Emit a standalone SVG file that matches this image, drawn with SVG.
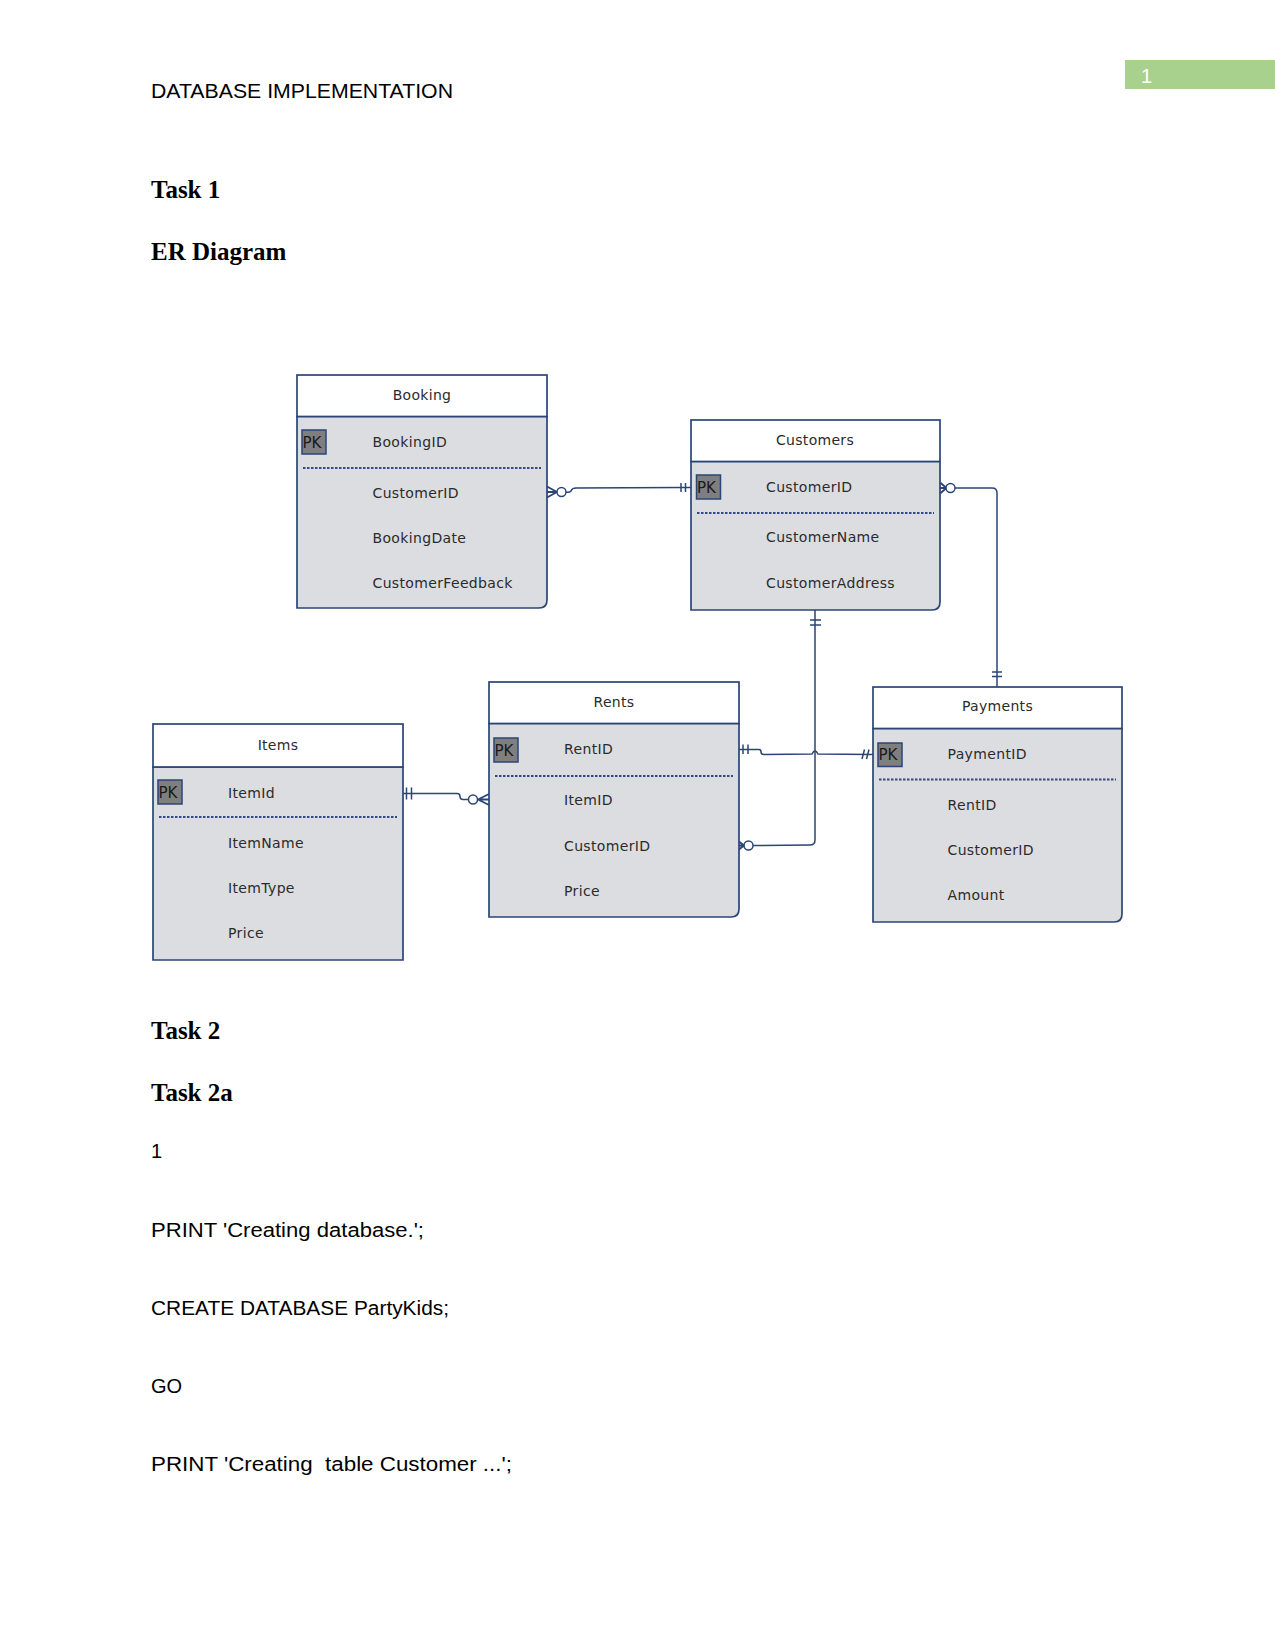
<svg xmlns="http://www.w3.org/2000/svg" width="1275" height="1650" viewBox="0 0 1275 1650">
<style>
.page{fill:#ffffff}
.body{fill:#dcdde0;stroke:#2b4576;stroke-width:1.7}
.head{fill:#ffffff;stroke:#2b4576;stroke-width:1.7}
.title{font-family:"DejaVu Sans",sans-serif;font-size:14px;fill:#2b2b2b;text-anchor:middle;letter-spacing:0.3px}
.attr{font-family:"DejaVu Sans",sans-serif;font-size:14px;fill:#2b2b2b;letter-spacing:0.35px}
.pk{fill:#7f7f7f;stroke:#2b4576;stroke-width:1.5}
.pkt{font-family:"DejaVu Sans",sans-serif;font-size:15px;fill:#1a1a1a}
.dot{stroke:#34497f;stroke-width:2;stroke-dasharray:2.5 1.5}
.conn{fill:none;stroke:#2b4576;stroke-width:1.5}
.foot{fill:none;stroke:#2b4576;stroke-width:1.9}
.circ{fill:#ffffff;stroke:#2b4576;stroke-width:1.5}
.hdr{font-family:"Liberation Sans",Arial,sans-serif;font-size:20px;fill:#000000}
.h1{font-family:"Liberation Serif","Times New Roman",serif;font-size:25px;font-weight:bold;fill:#000000}
.txt{font-family:"Liberation Sans",Arial,sans-serif;font-size:20px;fill:#000000}
</style>
<rect class="page" x="0" y="0" width="1275" height="1650"/>

<g id="header">
<text class="hdr" x="151" y="98" textLength="302" lengthAdjust="spacingAndGlyphs">DATABASE IMPLEMENTATION</text>
<rect x="1125" y="60" width="150" height="29" fill="#a9d18e"/>
<text x="1141" y="83" font-family="Liberation Sans, Arial, sans-serif" font-size="20" fill="#ffffff">1</text>
</g>

<g id="headings">
<text class="h1" x="151" y="198">Task 1</text>
<text class="h1" x="151" y="260">ER Diagram</text>
<text class="h1" x="151" y="1039">Task 2</text>
<text class="h1" x="151" y="1100.5">Task 2a</text>
</g>

<g id="bodytext">
<text class="txt" x="151" y="1158">1</text>
<text class="txt" x="151" y="1237" textLength="273" lengthAdjust="spacingAndGlyphs">PRINT 'Creating database.';</text>
<text class="txt" x="151" y="1315" textLength="298" lengthAdjust="spacingAndGlyphs">CREATE DATABASE PartyKids;</text>
<text class="txt" x="151" y="1392.5">GO</text>
<text class="txt" x="151" y="1470.5" textLength="361" lengthAdjust="spacingAndGlyphs" xml:space="preserve">PRINT 'Creating  table Customer ...';</text>
</g>

<g id="connectors">
<!-- Booking - Customers -->
<path class="foot" d="M547,486.5 L557,492 M547,497.5 L557,492 M547,492 L557,492"/>
<circle class="circ" cx="561.5" cy="492" r="4.5"/>
<path class="conn" d="M566,492 Q569,493 571,491 Q572,488 576,488 L680,487.5 L691,487.5"/>
<path class="conn" d="M681,483 V492 M685.5,483 V492"/>
<!-- Customers - Payments -->
<path class="foot" d="M940,482.5 L946.5,488 M940,493.5 L946.5,488 M940,488 L946.5,488"/>
<circle class="circ" cx="950.5" cy="488" r="4.5"/>
<path class="conn" d="M955,488 L992,488 Q997,488 997,493 L997,687"/>
<path class="conn" d="M992,672 H1002 M992,676.5 H1002"/>
<!-- Customers - Rents -->
<path class="conn" d="M815,610 L815,840 Q815,845 810,845 L753,845.5"/>
<path class="conn" d="M810,620 H821 M810,625 H821"/>
<circle class="circ" cx="748.5" cy="845.5" r="4.5"/>
<path class="foot" d="M737,840 L744,845.5 M737,851 L744,845.5 M737,845.5 L744,845.5"/>
<!-- Rents - Payments -->
<path class="conn" d="M733,749.5 L759,749.5 Q761,749.5 761,752 Q761,754.5 764,754.5 L812,754 Q815,748 818,754 L873,754.5"/>
<path class="conn" d="M743,744.5 V754 M748,744.5 V754"/>
<path class="conn" d="M862,759 L864.5,749.5 M866.5,759 L869,749.5"/>
<!-- Items - Rents -->
<path class="conn" d="M397,793.5 L457,793.5 Q460,793.5 460,796.5 Q460,799.5 463,799.5 L468.5,799.5"/>
<path class="conn" d="M406.5,787.5 V799.5 M411.5,787.5 V799.5"/>
<circle class="circ" cx="473" cy="799.5" r="4.5"/>
<path class="foot" d="M477.5,799.5 L489,799.5 M478,799.5 L489,794 M478,799.5 L489,805"/>
</g>

<g id="booking" transform="translate(297,375)">
<path class="body" d="M0,41.5 H250 V225 Q250,233 242,233 H0 Z"/>
<rect class="head" x="0" y="0" width="250" height="41.5"/>
<text class="title" x="125" y="24.5">Booking</text>
<rect class="pk" x="5" y="55" width="24" height="24"/>
<text class="pkt" x="5.5" y="72.5">PK</text>
<text class="attr" x="75.5" y="71.5">BookingID</text>
<line class="dot" x1="6" y1="93" x2="244" y2="93"/>
<text class="attr" x="75.5" y="122.5">CustomerID</text>
<text class="attr" x="75.5" y="167.5">BookingDate</text>
<text class="attr" x="75.5" y="213">CustomerFeedback</text>
</g>

<g id="customers" transform="translate(691,420)">
<path class="body" d="M0,41.5 H249 V182 Q249,190 241,190 H0 Z"/>
<rect class="head" x="0" y="0" width="249" height="41.5"/>
<text class="title" x="124" y="24.5">Customers</text>
<rect class="pk" x="5.5" y="55" width="24" height="24"/>
<text class="pkt" x="6" y="72.5">PK</text>
<text class="attr" x="75" y="71.5">CustomerID</text>
<line class="dot" x1="6" y1="93" x2="243" y2="93"/>
<text class="attr" x="75" y="121.5">CustomerName</text>
<text class="attr" x="75" y="167.5">CustomerAddress</text>
</g>

<g id="items" transform="translate(153,724)">
<path class="body" d="M0,43 H250 V236 H0 Z"/>
<rect class="head" x="0" y="0" width="250" height="43"/>
<text class="title" x="125" y="26">Items</text>
<rect class="pk" x="5" y="56" width="24" height="24"/>
<text class="pkt" x="5.5" y="73.5">PK</text>
<text class="attr" x="75" y="73.5">ItemId</text>
<line class="dot" x1="6" y1="93" x2="244" y2="93"/>
<text class="attr" x="75" y="123.5">ItemName</text>
<text class="attr" x="75" y="169">ItemType</text>
<text class="attr" x="75" y="214">Price</text>
</g>

<g id="rents" transform="translate(489,682)">
<path class="body" d="M0,41.5 H250 V227 Q250,235 242,235 H0 Z"/>
<rect class="head" x="0" y="0" width="250" height="41.5"/>
<text class="title" x="125" y="24.5">Rents</text>
<rect class="pk" x="5" y="56" width="24" height="24"/>
<text class="pkt" x="5.5" y="73.5">PK</text>
<text class="attr" x="75" y="71.5">RentID</text>
<line class="dot" x1="6" y1="94" x2="244" y2="94"/>
<text class="attr" x="75" y="123">ItemID</text>
<text class="attr" x="75" y="169">CustomerID</text>
<text class="attr" x="75" y="214">Price</text>
</g>

<g id="payments" transform="translate(873,687)">
<path class="body" d="M0,41.5 H249 V227 Q249,235 241,235 H0 Z"/>
<rect class="head" x="0" y="0" width="249" height="41.5"/>
<text class="title" x="124.5" y="24">Payments</text>
<rect class="pk" x="5" y="56" width="24" height="23.5"/>
<text class="pkt" x="5.5" y="73">PK</text>
<text class="attr" x="74.5" y="71.5">PaymentID</text>
<line class="dot" x1="6" y1="92.5" x2="243" y2="92.5"/>
<text class="attr" x="74.5" y="123">RentID</text>
<text class="attr" x="74.5" y="168">CustomerID</text>
<text class="attr" x="74.5" y="213">Amount</text>
</g>
</svg>
